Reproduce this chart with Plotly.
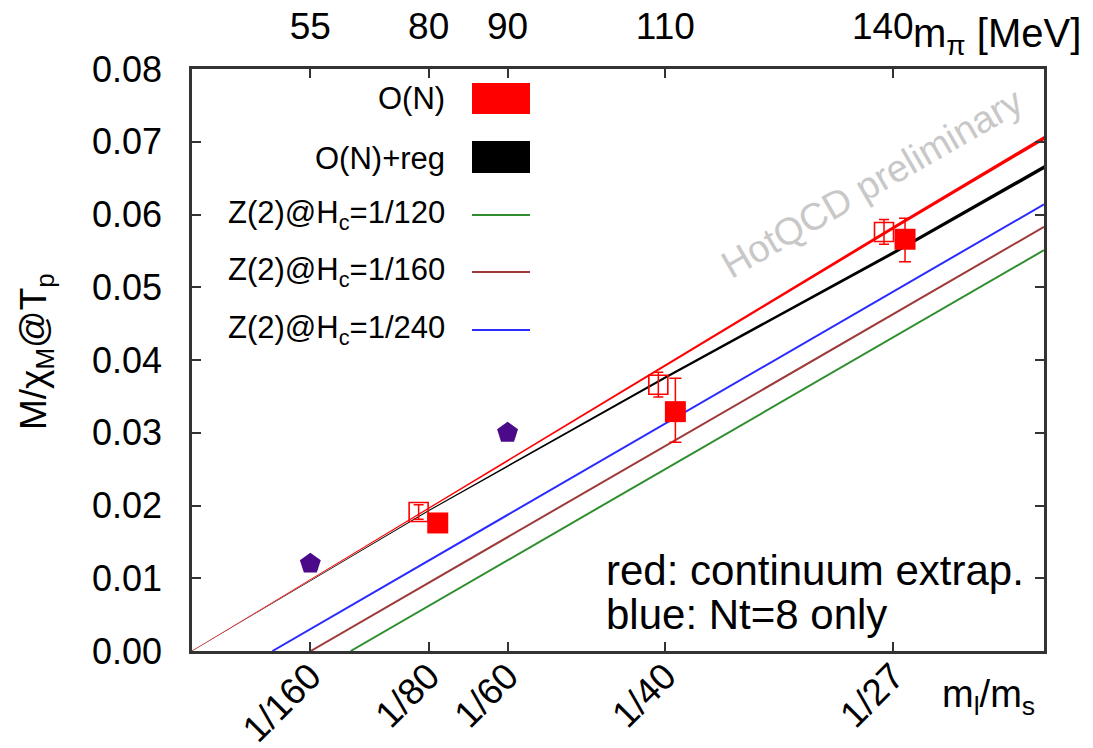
import plotly.graph_objects as go

# ---------------- data ----------------
tick_vals = [1/160, 1/80, 1/60, 1/40, 1/27]
tick_text = ["1/160", "1/80", "1/60", "1/40", "1/27"]
mpi_text = ["55", "80", "90", "110", "140"]

# O(N) fit (band)
on_x = [0.0, 0.0125, 0.025, 0.037, 0.045]
on_y = [0.0, 0.0196, 0.0392, 0.0581, 0.0705]
on_e = [0.00002, 0.00009, 0.00017, 0.00024, 0.00028]

# O(N)+reg fit (band)
onr_x = [0.0, 0.0125, 0.025, 0.0371, 0.045]
onr_y = [0.0, 0.0193, 0.0376, 0.0548, 0.0665]
onr_e = [0.00002, 0.00009, 0.00017, 0.00024, 0.00028]

# Z(2) lines
z120_x = [0.00838, 0.045]; z120_y = [0.0, 0.0551]
z160_x = [0.00627, 0.045]; z160_y = [0.0, 0.0583]
z240_x = [0.00425, 0.045]; z240_y = [0.0, 0.0614]

# continuum (filled squares)
cont_x = [0.01298, 0.02553, 0.03766]
cont_y = [0.0176, 0.0329, 0.0566]
cont_eplus = [0.0006, 0.0046, 0.0029]
cont_eminus = [0.0006, 0.0042, 0.0031]

# Nt=8 (open squares)
nt8_x = [0.01197, 0.02463, 0.03655]
nt8_y = [0.0191, 0.0366, 0.0576]
nt8_e = [0.0010, 0.0017, 0.0017]

# pentagons
pent_x = [1/160, 1/60]
pent_y = [0.0120, 0.0300]

# legend entries
leg_text = ["O(N)", "O(N)+reg", "Z(2)@H<sub>c</sub>=1/120",
            "Z(2)@H<sub>c</sub>=1/160", "Z(2)@H<sub>c</sub>=1/240"]

# ---------------- styles ----------------
RED = "#ff0000"
BLACK = "#000000"
GREEN = "#2f8f2f"
BROWN = "#9e3a3a"
BLUE = "#2b2bff"
PURPLE = "#4b0a8a"
FONT = "Liberation Sans, Arial, sans-serif"

W, H = 1093, 748
L, R, T, B = 192, 1044, 69, 651

# top labels: last label nudged left (as in the reference) so it clears the axis title
label_nudge = [0, 0, 0, 0, -0.00055]
top_label_pos = [v + d for v, d in zip(tick_vals, label_nudge)]


def px(xp):
    return (xp - L) / (R - L)


def py(yp):
    return (B - yp) / (B - T)


def band(xs, ys, es):
    bx = list(xs) + list(xs)[::-1]
    by = [y + e for y, e in zip(ys, es)] + [y - e for y, e in zip(ys, es)][::-1]
    return bx, by


fig = go.Figure()

for xs, ys, c in [(z120_x, z120_y, GREEN), (z160_x, z160_y, BROWN), (z240_x, z240_y, BLUE)]:
    fig.add_trace(go.Scatter(x=xs, y=ys, mode="lines", line=dict(color=c, width=2),
                             showlegend=False, hoverinfo="skip"))

bx, by = band(onr_x, onr_y, onr_e)
fig.add_trace(go.Scatter(x=bx, y=by, mode="lines", fill="toself", fillcolor=BLACK,
                         line=dict(width=0, color=BLACK), showlegend=False, hoverinfo="skip"))
bx, by = band(on_x, on_y, on_e)
fig.add_trace(go.Scatter(x=bx, y=by, mode="lines", fill="toself", fillcolor=RED,
                         line=dict(width=0, color=RED), showlegend=False, hoverinfo="skip"))

fig.add_trace(go.Scatter(x=nt8_x, y=nt8_y, mode="markers",
                         marker=dict(symbol="square-open", size=19, color=RED, line=dict(width=1.6, color=RED)),
                         error_y=dict(type="data", array=nt8_e, color=RED, thickness=1.5, width=5),
                         showlegend=False))
fig.add_trace(go.Scatter(x=cont_x, y=cont_y, mode="markers",
                         marker=dict(symbol="square", size=21, color=RED),
                         error_y=dict(type="data", array=cont_eplus, arrayminus=cont_eminus,
                                      color=RED, thickness=1.5, width=6),
                         showlegend=False))
fig.add_trace(go.Scatter(x=pent_x, y=pent_y, mode="markers",
                         marker=dict(symbol="pentagon", size=22, color=PURPLE),
                         showlegend=False))

# top axis helper trace
fig.add_trace(go.Scatter(x=[0.0, 0.045], y=[0, 0], xaxis="x2", mode="markers",
                         marker=dict(opacity=0), showlegend=False, hoverinfo="skip"))

fig.update_layout(
    width=W, height=H,
    margin=dict(l=L, r=W - R, t=T, b=H - B),
    paper_bgcolor="white", plot_bgcolor="white",
    font=dict(family=FONT, size=36, color="black"),
    xaxis=dict(range=[0, 0.045], tickvals=tick_vals, ticktext=tick_text, tickangle=-45,
               ticks="inside", ticklen=9, tickwidth=1.5, tickcolor="#333",
               showline=True, linecolor="#333", linewidth=2.5, mirror="ticks",
               showgrid=False, zeroline=False, tickfont=dict(size=37),
               ticklabelstandoff=-14, automargin=False),
    xaxis2=dict(range=[0, 0.045], overlaying="x", side="top", tickvals=top_label_pos,
                ticktext=mpi_text, ticks="", showline=False, showgrid=False, zeroline=False,
                tickfont=dict(size=37), ticklabelstandoff=22, automargin=False),
    yaxis=dict(range=[0, 0.08], dtick=0.01, tickformat=".2f",
               ticks="inside", ticklen=9, tickwidth=1.5, tickcolor="#333",
               showline=True, linecolor="#333", linewidth=2.5, mirror="ticks",
               showgrid=False, zeroline=False, tickfont=dict(size=36),
               ticklabelstandoff=20, automargin=False),
    showlegend=False,
)

ann = []
# legend
rows = [98, 158, 215, 272, 330]
for txt, yy in zip(leg_text, rows):
    ann.append(dict(x=px(447), y=py(yy), xref="paper", yref="paper", text=txt,
                    showarrow=False, xanchor="right", yanchor="middle",
                    font=dict(size=31, family=FONT)))
shapes = [
    dict(type="rect", xref="paper", yref="paper", x0=px(472), x1=px(530), y0=py(114), y1=py(83),
         fillcolor=RED, line=dict(width=0)),
    dict(type="rect", xref="paper", yref="paper", x0=px(472), x1=px(530), y0=py(173), y1=py(141),
         fillcolor=BLACK, line=dict(width=0)),
]
for yy, c in zip(rows[2:], [GREEN, BROWN, BLUE]):
    shapes.append(dict(type="line", xref="paper", yref="paper", x0=px(472), x1=px(530),
                       y0=py(yy), y1=py(yy), line=dict(color=c, width=2)))

ann += [
    dict(x=px(872), y=py(183), xref="paper", yref="paper", text="HotQCD preliminary",
         showarrow=False, textangle=-30, xanchor="center", yanchor="middle",
         font=dict(size=38, color="#c8c8c8", family=FONT)),
    dict(x=px(604), y=py(570), xref="paper", yref="paper", text="red: continuum extrap.",
         showarrow=False, xanchor="left", yanchor="middle", font=dict(size=42, family=FONT)),
    dict(x=px(604), y=py(614), xref="paper", yref="paper", text="blue: Nt=8 only",
         showarrow=False, xanchor="left", yanchor="middle", font=dict(size=42, family=FONT)),
    dict(x=px(988), y=py(697), xref="paper", yref="paper", text="m<sub>l</sub>/m<sub>s</sub>",
         showarrow=False, xanchor="center", yanchor="middle", font=dict(size=38, family=FONT)),
    dict(x=px(911), y=py(36), xref="paper", yref="paper", text="m<sub>π</sub> [MeV]",
         showarrow=False, xanchor="left", yanchor="middle", font=dict(size=40, family=FONT)),
    dict(x=px(36), y=py(352), xref="paper", yref="paper", text="M/χ<sub>M</sub>@T<sub>p</sub>",
         showarrow=False, textangle=-90, xanchor="center", yanchor="middle",
         font=dict(size=37, family=FONT)),
]
fig.update_layout(annotations=ann, shapes=shapes)

fig.write_html("out.html")
